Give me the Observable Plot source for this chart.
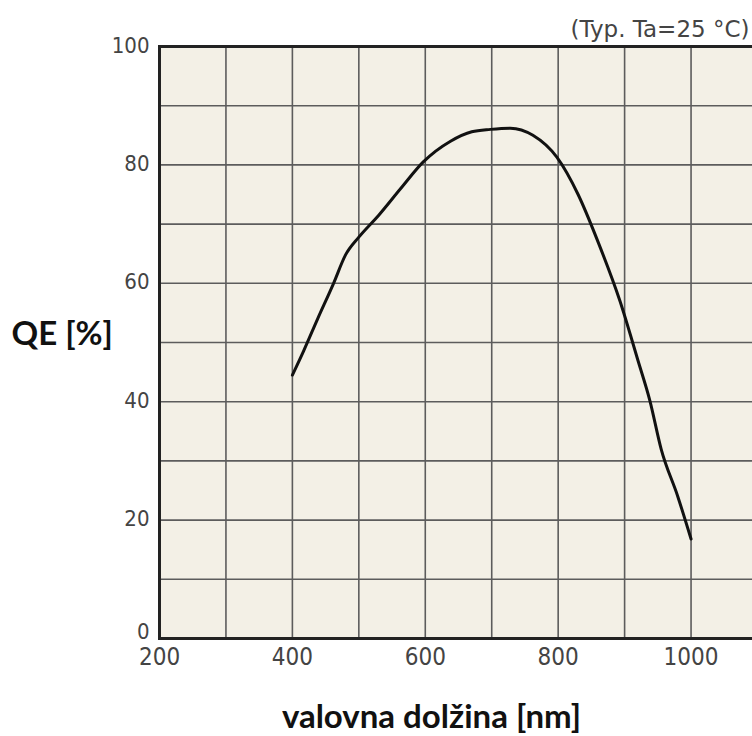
<!DOCTYPE html>
<html><head><meta charset="utf-8">
<script src="https://cdn.jsdelivr.net/npm/d3@7"></script>
<script src="https://cdn.jsdelivr.net/npm/@observablehq/plot@0.6"></script>
<style>html,body{margin:0;padding:0;background:#fff;overflow:hidden;width:752px;height:736px}</style>
</head><body><div id="chart"></div>
<script>
const wavelength = [400, 417, 438, 462, 480, 500, 530, 563, 597, 638, 670, 698, 728, 762, 798, 830, 860, 893, 920, 938, 955, 980, 1000];
const qe =         [44.5, 48.6, 54, 60, 64.8, 67.8, 71.5, 76, 80.5, 84, 85.6, 86, 86.2, 85, 81.3, 75, 67, 57, 47, 40.2, 32, 24, 16.8];
const xTicks = [200, 400, 600, 800, 1000];
const xGrid = [300, 400, 500, 600, 700, 800, 900, 1000];
const yTicks = [20, 40, 60, 80, 100];
const yZeroTick = [0];
const yGrid = [10, 20, 30, 40, 50, 60, 70, 80, 90];
const yLabel = "QE [%]";
const xLabel = "valovna dolžina [nm]";
const note = "(Typ. Ta=25 °C)";

const data = wavelength.map((w, i) => ({w, qe: qe[i]}));

const chart = Plot.plot({
  width: 760, height: 736,
  marginLeft: 159, marginRight: 3, marginTop: 46, marginBottom: 98,
  x: {domain: [200, 1100]},
  y: {domain: [0, 100]},
  style: {fontFamily: "'DejaVu Sans Condensed', 'DejaVu Sans', sans-serif", background: "transparent", overflow: "visible", maxWidth: "none"},
  marks: [
    Plot.frame({fill: "#f3f0e6", stroke: null}),
    Plot.ruleX(xGrid, {stroke: "#5c5c5c", strokeWidth: 1.6}),
    Plot.ruleY(yGrid, {stroke: "#5c5c5c", strokeWidth: 1.6}),
    Plot.line(data, {x: "w", y: "qe", curve: "monotone-x", stroke: "#111", strokeWidth: 3}),
    Plot.frame({stroke: "#222", strokeWidth: 3}),
    Plot.axisX({ticks: xTicks, tickFormat: d => String(d), tickSize: 0, tickPadding: 9, label: null, fontSize: 24, fill: "#444"}),
    Plot.axisY({ticks: yTicks, tickFormat: d => String(d), tickSize: 0, tickPadding: 10, label: null, fontSize: 22, fill: "#444", dy: -1}),
    Plot.axisY({ticks: yZeroTick, tickFormat: d => String(d), tickSize: 0, tickPadding: 10, label: null, fontSize: 22, fill: "#444", dy: -7}),
    Plot.text([yLabel], {frameAnchor: "left", textAnchor: "start", dx: -148, dy: -8, fontSize: 33, fontWeight: "bold", fontFamily: "Lato", fill: "#111"}),
    Plot.text([xLabel], {frameAnchor: "bottom", dx: -27, dy: 89, fontSize: 33, fontWeight: "bold", fontFamily: "Lato", fill: "#111"}),
    Plot.text([note], {frameAnchor: "top-right", textAnchor: "end", dx: -8, dy: -26, fontSize: 23, fontFamily: "DejaVu Sans", fill: "#444"})
  ]
});
document.getElementById("chart").appendChild(chart);
</script>
</body></html>
